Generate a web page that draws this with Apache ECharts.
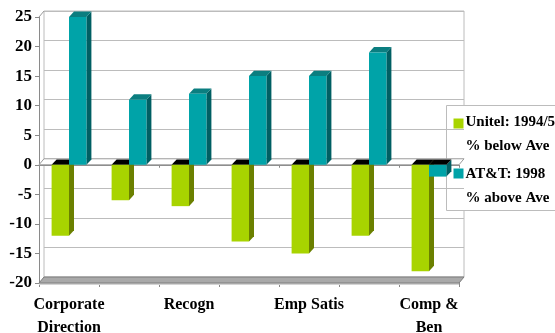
<!DOCTYPE html>
<html>
<head>
<meta charset="utf-8">
<script src="https://cdn.jsdelivr.net/npm/echarts@6/dist/echarts.min.js"></script>
<style>
  html, body { margin: 0; padding: 0; background: #fff; }
  #chart { width: 555px; height: 333px; }
</style>
</head>
<body>
<div id="chart"></div>
<script>
// Survey categories (only every other one carries a printed label)
const categories = ['Corporate\nDirection', '', 'Recogn', '', 'Emp Satis', '', 'Comp &\nBen'];
// Unitel 1994/5: % below average
const unitelBelow = [-12, -6, -7, -13, -15, -12, -18];
// AT&T 1998: % above average
const attAbove = [25, 11, 12, 15, 15, 19, -2];
// Value axis range and step
const valueMin = -20;
const valueMax = 25;
const valueStep = 5;
// Legend entries
const legendLabels = ['Unitel: 1994/5\n% below Ave', 'AT&T: 1998\n% above Ave'];

const SERIF = "'Liberation Serif', 'Times New Roman', serif";
const DX = 5, DY = -6;          // depth offset of the 3-D box
const BAR_FRAC = 0.29;          // bar width as a share of the category band

const greenFace = { front: '#a8d400', side: '#6b8000', top: '#7a9a00' };
const tealFace  = { front: '#00a3a8', side: '#005f63', top: '#0b7e80' };

function barRenderer(side, face) {
  return function (params, api) {
    const idx = api.value(0), v = api.value(1);
    const band = api.size([1, 0])[0];
    const w = band * BAR_FRAC;
    const base = api.coord([idx, 0]);
    const tip = api.coord([idx, v]);
    const x0 = side < 0 ? base[0] - w : base[0];
    const x1 = x0 + w;
    const yTop = Math.min(base[1], tip[1]);
    const yBot = Math.max(base[1], tip[1]);
    const topColor = v >= 0 ? face.top : '#000';
    const dy = DY * 0.9;
    return {
      type: 'group',
      children: [
        { type: 'polygon',
          shape: { points: [[x1, yTop], [x1 + DX, yTop + dy], [x1 + DX, yBot + dy], [x1, yBot]] },
          style: { fill: face.side } },
        { type: 'polygon',
          shape: { points: [[x0, yTop], [x0 + DX, yTop + dy], [x1 + DX, yTop + dy], [x1, yTop]] },
          style: { fill: topColor } },
        { type: 'rect',
          shape: { x: x0, y: yTop, width: w, height: yBot - yTop },
          style: { fill: face.front } }
      ]
    };
  };
}

// Floor slab, zero plane and left-wall edge, placed through the axis scales
function frameRenderer(params, api) {
  const band = api.size([1, 0])[0];
  const first = api.coord([0, 0]);
  const last = api.coord([categories.length - 1, 0]);
  const xl = first[0] - band / 2, xr = last[0] + band / 2;
  const y0 = first[1];
  const yF = api.coord([0, valueMin])[1];
  const yT = api.coord([0, valueMax])[1];
  const slab = (y) => [[xl, y], [xl + DX, y + DY], [xr + DX, y + DY], [xr, y]];
  return {
    type: 'group',
    children: [
      { type: 'rect', shape: { x: xl, y: yF, width: xr - xl, height: 2 },
        style: { fill: '#d4d4d4' } },
      { type: 'polygon', shape: { points: slab(yF) },
        style: { fill: '#a9a9a9', stroke: '#7c7c7c', lineWidth: 1 } },
      { type: 'polygon', shape: { points: slab(y0) },
        style: { fill: '#ffffff', stroke: '#9a9a9a', lineWidth: 1 } },
      { type: 'line', shape: { x1: xl, y1: yT, x2: xl + DX, y2: yT + DY },
        style: { stroke: '#9a9a9a', lineWidth: 1 } }
    ]
  };
}

const chart = echarts.init(document.getElementById('chart'), null, { renderer: 'canvas' });

const valueAxisBase = { type: 'value', min: valueMin, max: valueMax, interval: valueStep };

chart.setOption({
  backgroundColor: '#ffffff',
  animation: false,
  grid: [
    { left: 39, top: 17, width: 420, height: 266, outerBoundsMode: 'none', containLabel: false },
    { left: 39 + DX, top: 17 + DY, width: 420, height: 266, outerBoundsMode: 'none', containLabel: false,
      show: true, borderColor: '#bcbcbc', borderWidth: 1, backgroundColor: 'transparent' }
  ],
  xAxis: [
    { // front edge of the zero plane, ticks hanging below it
      type: 'category', gridIndex: 0, data: categories, position: 'top',
      axisLine: { onZero: true, lineStyle: { color: '#8a8a8a' } },
      axisTick: { show: true, inside: true, length: 3, lineStyle: { color: '#8a8a8a' } },
      axisLabel: { show: false }, splitLine: { show: false } },
    { // category labels under the floor
      type: 'category', gridIndex: 0, data: categories, position: 'bottom',
      axisLine: { show: false, onZero: false },
      axisTick: { show: true, length: 4, lineStyle: { color: '#8a8a8a' } },
      axisLabel: { interval: 0, color: '#000', fontFamily: SERIF, fontWeight: 'bold',
                   fontSize: 16, lineHeight: 23, margin: 10 } },
    { type: 'category', gridIndex: 1, data: categories, show: false }
  ],
  yAxis: [
    Object.assign({}, valueAxisBase, {
      gridIndex: 0,
      axisLine: { show: true, lineStyle: { color: '#8a8a8a' } },
      axisTick: { show: true, length: 4, lineStyle: { color: '#8a8a8a' } },
      axisLabel: { color: '#000', fontFamily: SERIF, fontWeight: 'bold', fontSize: 17, margin: 7 },
      splitLine: { show: false } }),
    Object.assign({}, valueAxisBase, {
      gridIndex: 1,
      axisLine: { show: false }, axisTick: { show: false }, axisLabel: { show: false },
      splitLine: { show: true, lineStyle: { color: '#bcbcbc', width: 1 } } })
  ],
  series: [
    { type: 'custom', name: 'frame', xAxisIndex: 0, yAxisIndex: 0, z: 1, silent: true,
      renderItem: frameRenderer, data: [[0, 0]] },
    { type: 'custom', name: legendLabels[0], xAxisIndex: 0, yAxisIndex: 0, z: 2,
      renderItem: barRenderer(-1, greenFace),
      data: unitelBelow.map((v, i) => [i, v]) },
    { type: 'custom', name: legendLabels[1], xAxisIndex: 0, yAxisIndex: 0, z: 3,
      renderItem: barRenderer(1, tealFace),
      data: attAbove.map((v, i) => [i, v]) }
  ],
  graphic: [
    { type: 'group', left: 446, top: 105, z: 10,
      children: [
        { type: 'rect', shape: { x: 0, y: 0, width: 118, height: 105 },
          style: { fill: '#ffffff', stroke: '#bcbcbc', lineWidth: 1 } },
        { type: 'rect', shape: { x: 7, y: 13, width: 10, height: 10 },
          style: { fill: greenFace.front } },
        { type: 'text', x: 19, y: 5,
          style: { text: legendLabels[0], fill: '#000', font: 'bold 15px ' + SERIF,
                   lineHeight: 24, verticalAlign: 'top' } },
        { type: 'rect', shape: { x: 7, y: 63, width: 10, height: 10 },
          style: { fill: tealFace.front } },
        { type: 'text', x: 19, y: 57,
          style: { text: legendLabels[1], fill: '#000', font: 'bold 15px ' + SERIF,
                   lineHeight: 24, verticalAlign: 'top' } }
      ] }
  ]
});
</script>
</body>
</html>
